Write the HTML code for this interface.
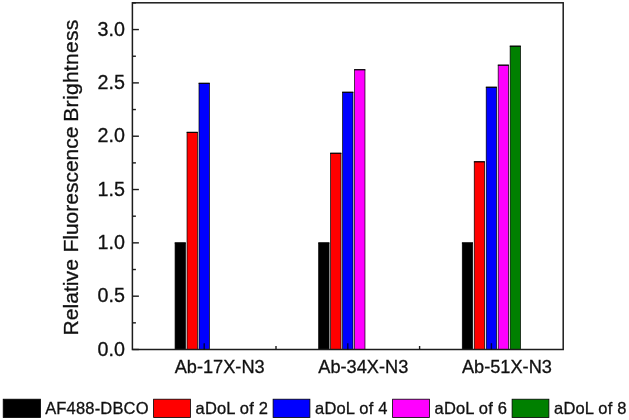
<!DOCTYPE html>
<html><head><meta charset="utf-8"><title>Relative Fluorescence Brightness</title>
<style>html,body{margin:0;padding:0;background:#fff;}svg{display:block;}text{font-family:"Liberation Sans",Arial,sans-serif;fill:#111;stroke:#111;stroke-width:0.3px;}</style></head>
<body>
<svg width="629" height="420" viewBox="0 0 629 420">
<rect width="629" height="420" fill="#fff"/>
<rect x="175.07" y="242.86" width="10.40" height="106.64" fill="#000000" stroke="#000" stroke-width="0.7"/>
<line x1="174.72" y1="243.01" x2="185.82" y2="243.01" stroke="#000" stroke-opacity="0.85" stroke-width="1.2"/>
<rect x="187.03" y="132.26" width="10.40" height="217.24" fill="#ff0000" stroke="#000" stroke-width="0.7"/>
<line x1="186.68" y1="132.41" x2="197.78" y2="132.41" stroke="#000" stroke-opacity="0.85" stroke-width="1.2"/>
<rect x="199.00" y="83.21" width="10.40" height="266.29" fill="#0000ff" stroke="#000" stroke-width="0.7"/>
<line x1="198.65" y1="83.36" x2="209.75" y2="83.36" stroke="#000" stroke-opacity="0.85" stroke-width="1.2"/>
<rect x="318.67" y="242.86" width="10.40" height="106.64" fill="#000000" stroke="#000" stroke-width="0.7"/>
<line x1="318.32" y1="243.01" x2="329.42" y2="243.01" stroke="#000" stroke-opacity="0.85" stroke-width="1.2"/>
<rect x="330.63" y="153.17" width="10.40" height="196.33" fill="#ff0000" stroke="#000" stroke-width="0.7"/>
<line x1="330.28" y1="153.32" x2="341.38" y2="153.32" stroke="#000" stroke-opacity="0.85" stroke-width="1.2"/>
<rect x="342.60" y="92.17" width="10.40" height="257.33" fill="#0000ff" stroke="#000" stroke-width="0.7"/>
<line x1="342.25" y1="92.32" x2="353.35" y2="92.32" stroke="#000" stroke-opacity="0.85" stroke-width="1.2"/>
<rect x="354.57" y="69.66" width="10.40" height="279.84" fill="#ff00ff" stroke="#000" stroke-width="0.7"/>
<line x1="354.22" y1="69.81" x2="365.32" y2="69.81" stroke="#000" stroke-opacity="0.85" stroke-width="1.2"/>
<rect x="462.27" y="242.86" width="10.40" height="106.64" fill="#000000" stroke="#000" stroke-width="0.7"/>
<line x1="461.92" y1="243.01" x2="473.02" y2="243.01" stroke="#000" stroke-opacity="0.85" stroke-width="1.2"/>
<rect x="474.23" y="161.70" width="10.40" height="187.80" fill="#ff0000" stroke="#000" stroke-width="0.7"/>
<line x1="473.88" y1="161.85" x2="484.98" y2="161.85" stroke="#000" stroke-opacity="0.85" stroke-width="1.2"/>
<rect x="486.20" y="87.15" width="10.40" height="262.35" fill="#0000ff" stroke="#000" stroke-width="0.7"/>
<line x1="485.85" y1="87.30" x2="496.95" y2="87.30" stroke="#000" stroke-opacity="0.85" stroke-width="1.2"/>
<rect x="498.17" y="65.08" width="10.40" height="284.42" fill="#ff00ff" stroke="#000" stroke-width="0.7"/>
<line x1="497.82" y1="65.23" x2="508.92" y2="65.23" stroke="#000" stroke-opacity="0.85" stroke-width="1.2"/>
<rect x="510.13" y="46.09" width="10.40" height="303.41" fill="#008000" stroke="#000" stroke-width="0.7"/>
<line x1="509.78" y1="46.24" x2="520.88" y2="46.24" stroke="#000" stroke-opacity="0.85" stroke-width="1.2"/>
<rect x="132.40" y="2.80" width="430.80" height="346.70" fill="none" stroke="#1c1c1c" stroke-width="1.5"/>
<line x1="132.40" y1="349.50" x2="138.90" y2="349.50" stroke="#1c1c1c" stroke-width="1.4"/>
<text x="124.9" y="355.60" font-size="19.7" text-anchor="end">0.0</text>
<line x1="132.40" y1="296.18" x2="138.90" y2="296.18" stroke="#1c1c1c" stroke-width="1.4"/>
<text x="124.9" y="302.28" font-size="19.7" text-anchor="end">0.5</text>
<line x1="132.40" y1="242.86" x2="138.90" y2="242.86" stroke="#1c1c1c" stroke-width="1.4"/>
<text x="124.9" y="248.96" font-size="19.7" text-anchor="end">1.0</text>
<line x1="132.40" y1="189.53" x2="138.90" y2="189.53" stroke="#1c1c1c" stroke-width="1.4"/>
<text x="124.9" y="195.63" font-size="19.7" text-anchor="end">1.5</text>
<line x1="132.40" y1="136.21" x2="138.90" y2="136.21" stroke="#1c1c1c" stroke-width="1.4"/>
<text x="124.9" y="142.31" font-size="19.7" text-anchor="end">2.0</text>
<line x1="132.40" y1="82.89" x2="138.90" y2="82.89" stroke="#1c1c1c" stroke-width="1.4"/>
<text x="124.9" y="88.99" font-size="19.7" text-anchor="end">2.5</text>
<line x1="132.40" y1="29.56" x2="138.90" y2="29.56" stroke="#1c1c1c" stroke-width="1.4"/>
<text x="124.9" y="35.66" font-size="19.7" text-anchor="end">3.0</text>
<line x1="132.40" y1="322.84" x2="135.90" y2="322.84" stroke="#1c1c1c" stroke-width="1.4"/>
<line x1="132.40" y1="269.52" x2="135.90" y2="269.52" stroke="#1c1c1c" stroke-width="1.4"/>
<line x1="132.40" y1="216.19" x2="135.90" y2="216.19" stroke="#1c1c1c" stroke-width="1.4"/>
<line x1="132.40" y1="162.87" x2="135.90" y2="162.87" stroke="#1c1c1c" stroke-width="1.4"/>
<line x1="132.40" y1="109.55" x2="135.90" y2="109.55" stroke="#1c1c1c" stroke-width="1.4"/>
<line x1="132.40" y1="56.23" x2="135.90" y2="56.23" stroke="#1c1c1c" stroke-width="1.4"/>
<line x1="132.40" y1="2.90" x2="135.90" y2="2.90" stroke="#1c1c1c" stroke-width="1.4"/>
<line x1="204.20" y1="349.50" x2="204.20" y2="343.20" stroke="#000" stroke-opacity="0.75" stroke-width="1.4"/>
<line x1="347.80" y1="349.50" x2="347.80" y2="343.20" stroke="#000" stroke-opacity="0.75" stroke-width="1.4"/>
<line x1="491.40" y1="349.50" x2="491.40" y2="343.20" stroke="#000" stroke-opacity="0.75" stroke-width="1.4"/>
<line x1="276.00" y1="349.50" x2="276.00" y2="346.00" stroke="#1c1c1c" stroke-width="1.4"/>
<line x1="419.60" y1="349.50" x2="419.60" y2="346.00" stroke="#1c1c1c" stroke-width="1.4"/>
<text x="219.70" y="373.0" font-size="18.2" text-anchor="middle">Ab-17X-N3</text>
<text x="363.30" y="373.0" font-size="18.2" text-anchor="middle">Ab-34X-N3</text>
<text x="506.90" y="373.0" font-size="18.2" text-anchor="middle">Ab-51X-N3</text>
<text transform="translate(78.4,335.5) rotate(-90)" font-size="21" letter-spacing="0.07">Relative</text>
<text transform="translate(78.4,252.6) rotate(-90)" font-size="21" letter-spacing="0.00">Fluorescence</text>
<text transform="translate(78.4,121.7) rotate(-90)" font-size="21" letter-spacing="0.31">Brightness</text>
<rect x="3.20" y="399.2" width="37.3" height="18.3" fill="#000000" stroke="#000" stroke-width="0.8"/>
<text x="45.20" y="413.7" font-size="16.5" letter-spacing="0.17">AF488-DBCO</text>
<rect x="153.60" y="399.2" width="36.8" height="18.3" fill="#ff0000" stroke="#000" stroke-width="0.8"/>
<text x="195.60" y="413.7" font-size="16.5" letter-spacing="0.17">aDoL of 2</text>
<rect x="273.10" y="399.2" width="36.8" height="18.3" fill="#0000ff" stroke="#000" stroke-width="0.8"/>
<text x="315.10" y="413.7" font-size="16.5" letter-spacing="0.17">aDoL of 4</text>
<rect x="392.60" y="399.2" width="36.8" height="18.3" fill="#ff00ff" stroke="#000" stroke-width="0.8"/>
<text x="434.60" y="413.7" font-size="16.5" letter-spacing="0.17">aDoL of 6</text>
<rect x="512.10" y="399.2" width="36.8" height="18.3" fill="#008000" stroke="#000" stroke-width="0.8"/>
<text x="554.10" y="413.7" font-size="16.5" letter-spacing="0.17">aDoL of 8</text>
</svg>
</body></html>
